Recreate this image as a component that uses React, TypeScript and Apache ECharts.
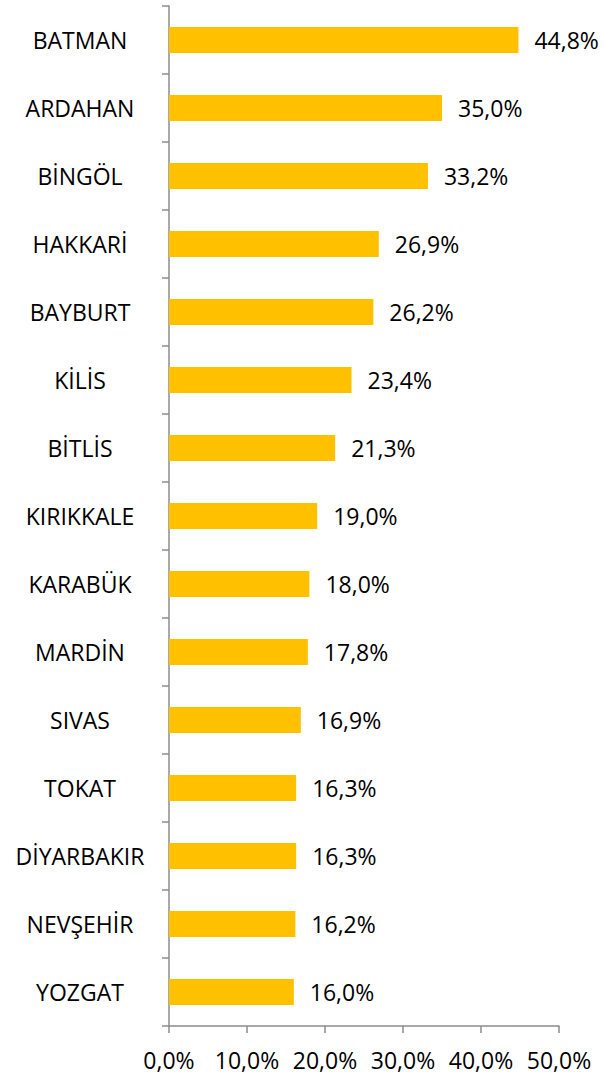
import React, { useEffect, useRef } from "react";
import * as echarts from "echarts";

const categories = [
  "BATMAN", "ARDAHAN", "BİNGÖL", "HAKKARİ", "BAYBURT", "KİLİS", "BİTLİS",
  "KIRIKKALE", "KARABÜK", "MARDİN", "SIVAS", "TOKAT", "DİYARBAKIR", "NEVŞEHİR", "YOZGAT",
];
const values = [44.8, 35.0, 33.2, 26.9, 26.2, 23.4, 21.3, 19.0, 18.0, 17.8, 16.9, 16.3, 16.3, 16.2, 16.0];
const axisMin = 0;
const axisMax = 50;
const axisStep = 10;

const fmt = (v: number) => v.toFixed(1).replace(".", ",") + "%";
const FONT = "'Open Sans', sans-serif";

export default function App() {
  const ref = useRef<HTMLDivElement>(null);
  useEffect(() => {
    if (!ref.current) return;
    const chart = echarts.init(ref.current, undefined, { renderer: "svg" });
    const axisLine = { show: true, lineStyle: { color: "#8c8c8c", width: 1.5 } };
    chart.setOption({
      animation: false,
      backgroundColor: "#ffffff",
      textStyle: { fontFamily: FONT },
      grid: { left: 169, right: 54, top: 6, bottom: 49, containLabel: false },
      xAxis: {
        type: "value",
        min: axisMin,
        max: axisMax,
        interval: axisStep,
        axisLine,
        axisTick: { show: true, length: 7, lineStyle: { color: "#8c8c8c", width: 1.5 } },
        splitLine: { show: false },
        axisLabel: {
          formatter: (v: number) => fmt(v),
          color: "#000",
          fontSize: 23,
          fontFamily: FONT,
          margin: 22,
        },
      },
      yAxis: {
        type: "category",
        inverse: true,
        data: categories,
        axisLine,
        axisTick: { show: true, length: 7, alignWithLabel: false, lineStyle: { color: "#8c8c8c", width: 1.5 } },
        axisLabel: {
          color: "#000",
          fontSize: 23,
          fontFamily: FONT,
          align: "center",
          margin: 89,
        },
      },
      series: [
        {
          type: "bar",
          data: values,
          barWidth: 26,
          itemStyle: { color: "#FFC000" },
          label: {
            show: true,
            position: "right",
            distance: 16,
            formatter: (p: any) => fmt(p.value),
            color: "#000",
            fontSize: 23,
            fontFamily: FONT,
          },
        },
      ],
    });
    return () => chart.dispose();
  }, []);
  return (
    <div
      ref={ref}
      style={{ position: "fixed", left: 0, top: 0, width: 613, height: 1075, background: "#fff" }}
    />
  );
}
